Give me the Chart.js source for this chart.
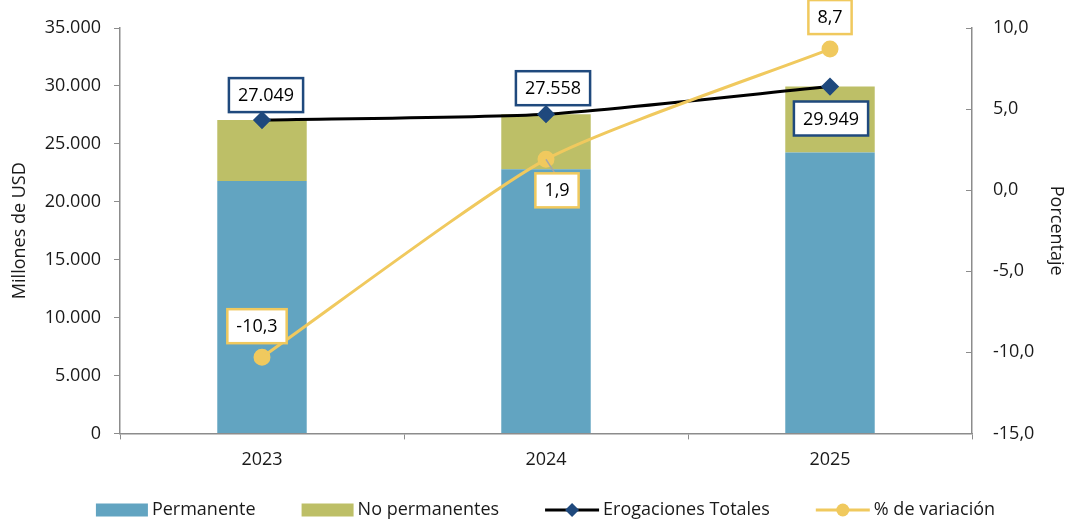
<!DOCTYPE html>
<html>
<head>
<meta charset="utf-8">
<script src="https://cdn.jsdelivr.net/npm/chart.js@4.4.1/dist/chart.umd.min.js"></script>
<style>
html, body { margin: 0; padding: 0; background: #fff; }
#wrap { width: 1068px; height: 525px; }
</style>
</head>
<body>
<div id="wrap"><canvas id="chart"></canvas></div>
<script>
// values
const years = ['2023', '2024', '2025'];
const permanente = [21800, 22800, 24250];
const noPermanentes = [5249, 4758, 5699];
const erogaciones = [27049, 27558, 29949];
const variacion = [-10.3, 1.9, 8.7];

const blue = '#62A4C1';
const olive = '#BDBF67';
const navy = '#1F497D';
const yellow = '#F0C95E';
const axisGray = '#8C8C8C';
const textColor = '#1a1a1a';
const fontFamily = '"Open Sans", Lato, sans-serif';

function fmtMiles(v) {
  return String(Math.round(v)).replace(/\B(?=(\d{3})+(?!\d))/g, '.');
}

function fmtPct(v) {
  return v.toFixed(1).replace('.', ',');
}

// boxed value labels: offset from the point, box border colour
const boxLabels = [
  { dataset: 2, color: navy, fmt: fmtMiles, offsets: [[4, -25], [7, -26], [1, 32]] },
  { dataset: 3, color: yellow, fmt: fmtPct, offsets: [[-5, -31], [11, 31], [0, -32]], leader: [false, true, false] }
];

function drawLegendSymbol(ctx, kind, color, mark, x, y) {
  if (kind === 'box') {
    ctx.fillStyle = color;
    ctx.fillRect(x, y - 6.5, 52, 13);
    return;
  }
  ctx.strokeStyle = color;
  ctx.lineWidth = 3;
  ctx.beginPath();
  ctx.moveTo(x, y);
  ctx.lineTo(x + 54, y);
  ctx.stroke();
  ctx.fillStyle = mark;
  ctx.beginPath();
  const cx = x + 27;
  if (kind === 'diamond') {
    ctx.moveTo(cx, y - 7); ctx.lineTo(cx + 7, y); ctx.lineTo(cx, y + 7); ctx.lineTo(cx - 7, y);
  } else {
    ctx.arc(cx, y, 6.5, 0, Math.PI * 2);
  }
  ctx.closePath();
  ctx.fill();
}

const legendKinds = ['box', 'box', 'diamond', 'circle'];
const legendMarks = [blue, olive, navy, yellow];

const boxLabelPlugin = {
  id: 'boxLabels',
  afterDatasetsDraw(chart) {
    const ctx = chart.ctx;
    ctx.save();
    ctx.font = '18px ' + fontFamily;
    ctx.textAlign = 'center';
    ctx.textBaseline = 'middle';
    boxLabels.forEach(cfg => {
      const meta = chart.getDatasetMeta(cfg.dataset);
      const values = chart.data.datasets[cfg.dataset].data;
      meta.data.forEach((pt, i) => {
        const txt = cfg.fmt(values[i]);
        const w = ctx.measureText(txt).width + 18;
        const h = 34;
        const cx = pt.x + cfg.offsets[i][0];
        const cy = pt.y + cfg.offsets[i][1];
        if (cfg.leader && cfg.leader[i]) {
          ctx.strokeStyle = '#A6A6A6';
          ctx.lineWidth = 1.5;
          ctx.beginPath();
          ctx.moveTo(pt.x, pt.y);
          ctx.lineTo(cx - 2, cy - h / 2);
          ctx.stroke();
        }
        ctx.fillStyle = '#fff';
        ctx.fillRect(cx - w / 2, cy - h / 2, w, h);
        ctx.strokeStyle = cfg.color;
        ctx.lineWidth = 2.5;
        ctx.strokeRect(cx - w / 2, cy - h / 2, w, h);
        ctx.fillStyle = '#000';
        ctx.fillText(txt, cx, cy + 1);
      });
    });
    ctx.restore();
  },
  afterDraw(chart) {
    const ctx = chart.ctx;
    ctx.save();
    // right axis tick marks point inwards
    const s = chart.scales.y1;
    ctx.strokeStyle = axisGray;
    ctx.lineWidth = 1;
    s.ticks.forEach(t => {
      const y = Math.round(s.getPixelForValue(t.value)) + 0.5;
      ctx.beginPath();
      ctx.moveTo(s.left - 6, y);
      ctx.lineTo(s.left, y);
      ctx.stroke();
    });

    // legend along the bottom
    ctx.font = '18px ' + fontFamily;
    ctx.textBaseline = 'middle';
    ctx.textAlign = 'left';
    const items = chart.data.datasets.map((ds, i) => ({
      text: ds.label,
      kind: legendKinds[i],
      color: ds.type === 'line' ? ds.borderColor : ds.backgroundColor,
      mark: legendMarks[i],
      symW: legendKinds[i] === 'box' ? 52 : 54
    }));
    let total = 0;
    items.forEach((it, i) => {
      it.textW = ctx.measureText(it.text).width;
      total += it.symW + 4 + it.textW + (i ? 46 : 0);
    });
    let x = 545.5 - total / 2;
    const y = 510;
    items.forEach(it => {
      drawLegendSymbol(ctx, it.kind, it.color, it.mark, x, y);
      x += it.symW + 4;
      ctx.fillStyle = textColor;
      ctx.fillText(it.text, x, y);
      x += it.textW + 46;
    });
    ctx.restore();
  }
};

Chart.defaults.font.family = fontFamily;
Chart.defaults.font.size = 18;
Chart.defaults.color = textColor;

const data = {
  labels: years,
  datasets: [
    {
      label: 'Permanente',
      type: 'bar',
      data: permanente,
      backgroundColor: blue,
      stack: 'a',
      yAxisID: 'y',
      order: 3,
      barPercentage: 0.315,
      categoryPercentage: 1
    },
    {
      label: 'No permanentes',
      type: 'bar',
      data: noPermanentes,
      backgroundColor: olive,
      stack: 'a',
      yAxisID: 'y',
      order: 4,
      barPercentage: 0.315,
      categoryPercentage: 1
    },
    {
      label: 'Erogaciones Totales',
      type: 'line',
      data: erogaciones,
      borderColor: '#000',
      borderWidth: 3,
      pointStyle: 'rectRot',
      pointRadius: 7,
      pointBackgroundColor: navy,
      pointBorderColor: navy,
      tension: 0.2,
      yAxisID: 'y',
      order: 2
    },
    {
      label: '% de variación',
      type: 'line',
      data: variacion,
      borderColor: yellow,
      borderWidth: 3,
      pointStyle: 'circle',
      pointRadius: 7,
      pointBackgroundColor: yellow,
      pointBorderColor: yellow,
      tension: 0.2,
      yAxisID: 'y1',
      order: 1
    }
  ]
};

const config = {
  type: 'bar',
  data: data,
  options: {
    responsive: true,
    maintainAspectRatio: false,
    animation: false,
    layout: {
      padding: { top: 28, left: 0, right: 0, bottom: 44 }
    },
    plugins: {
      tooltip: { enabled: false },
      legend: { display: false }
    },
    scales: {
      x: {
        stacked: true,
        grid: {
          drawOnChartArea: false,
          drawTicks: true,
          tickLength: 6,
          color: axisGray,
          offset: true
        },
        border: { display: true, color: axisGray, width: 1.5 },
        ticks: { padding: 10, color: textColor }
      },
      y: {
        stacked: true,
        position: 'left',
        min: 0,
        max: 35000,
        grid: {
          drawOnChartArea: false,
          drawTicks: true,
          tickLength: 6,
          color: axisGray
        },
        border: { display: true, color: axisGray, width: 1.5 },
        ticks: {
          stepSize: 5000,
          padding: 13,
          color: textColor,
          callback: v => fmtMiles(v)
        },
        title: {
          display: true,
          text: 'Millones de USD',
          color: textColor,
          padding: { top: 9, bottom: 0 }
        },
        afterFit(scale) { scale.width = 120; scale.paddingTop = 0; }
      },
      y1: {
        position: 'right',
        min: -15,
        max: 10,
        grid: {
          drawOnChartArea: false,
          drawTicks: false
        },
        border: { display: true, color: axisGray, width: 1.5 },
        ticks: {
          stepSize: 5,
          padding: 21,
          color: textColor,
          callback: v => fmtPct(v)
        },
        title: {
          display: true,
          text: 'Porcentaje',
          color: textColor,
          padding: { top: 1, bottom: 0 }
        },
        afterFit(scale) { scale.width = 96; scale.paddingTop = 0; }
      }
    }
  },
  plugins: [boxLabelPlugin]
};

const chart = new Chart(document.getElementById('chart'), config);
</script>
</body>
</html>
